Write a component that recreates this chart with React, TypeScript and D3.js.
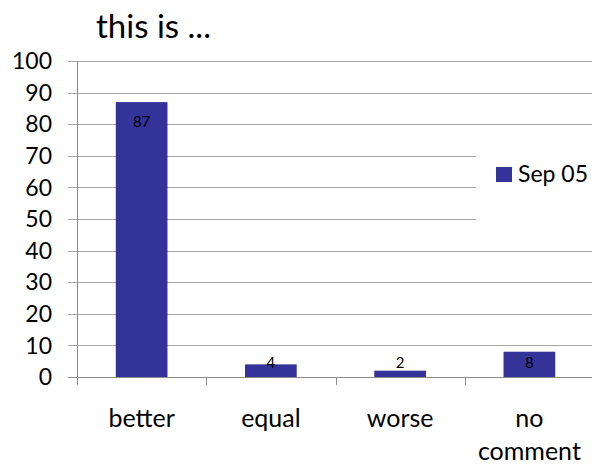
import React from "react";
import * as d3 from "d3";

const categories: string[][] = [["better"], ["equal"], ["worse"], ["no", "comment"]];
const values: number[] = [87, 4, 2, 8];
const yTicks: number[] = [0, 10, 20, 30, 40, 50, 60, 70, 80, 90, 100];
const seriesName = "Sep 05";
const title = "this is ...";

const W = 592;
const H = 465;
const FONT = "Lato, 'Open Sans', sans-serif";
const BAR = "#333399";
const GRID = "#a6a6a6";
const AXIS = "#8c8c8c";

export default function App() {
  const left = 77;
  const right = 594;
  const top = 61;
  const bottom = 377;
  const keys = categories.map((c) => c.join(" "));
  const x = d3.scaleBand<string>().domain(keys).range([left, right]).padding(0);
  const y = d3.scaleLinear().domain([0, 100]).range([bottom, top]);
  const step = x.step();
  const tickLen = 9;

  return (
    <svg
      width={W}
      height={H}
      style={{ position: "absolute", left: 0, top: 0, background: "#fff" }}
      fontFamily={FONT}
    >
      <rect x={0} y={0} width={W} height={H} fill="#fff" />
      <text x={96} y={38} fontSize={33} fill="#000">
        {title}
      </text>
      {/* gridlines */}
      {yTicks.map((t) => (
        <line
          key={"g" + t}
          x1={left - tickLen}
          x2={W}
          y1={Math.round(y(t)) + 0.5}
          y2={Math.round(y(t)) + 0.5}
          stroke={t === 0 ? AXIS : GRID}
          strokeWidth={1}
        />
      ))}
      {/* y tick labels */}
      {yTicks.map((t) => (
        <text
          key={"yl" + t}
          x={52}
          y={y(t)}
          dy="0.36em"
          textAnchor="end"
          fontSize={23}
          fill="#000"
        >
          {t}
        </text>
      ))}
      {/* y axis */}
      <line x1={left + 0.5} x2={left + 0.5} y1={top} y2={bottom + 8} stroke={AXIS} />
      {/* x ticks */}
      {keys.map((k) => (
        <line
          key={"xt" + k}
          x1={Math.round(x(k)!) + 0.5}
          x2={Math.round(x(k)!) + 0.5}
          y1={bottom}
          y2={bottom + 8}
          stroke={AXIS}
        />
      ))}
      {/* bars */}
      {keys.map((k, i) => {
        const bx = x(k)! + step * 0.3;
        const bw = step * 0.4;
        const by = y(values[i]);
        return (
          <rect key={"b" + k} x={bx} y={by} width={bw} height={bottom - by} fill={BAR} />
        );
      })}
      {/* data labels */}
      {keys.map((k, i) => {
        const cx = x(k)! + step / 2;
        const by = y(values[i]);
        const base = Math.min(by + 25, y(0) - 9);
        return (
          <text key={"dl" + k} x={cx} y={base} textAnchor="middle" fontSize={15} fill="#000">
            {values[i]}
          </text>
        );
      })}
      {/* x labels */}
      {categories.map((lines, i) => {
        const cx = x(keys[i])! + step / 2;
        return (
          <text key={"xl" + i} textAnchor="middle" fontSize={25} fill="#000">
            {lines.map((l, j) => (
              <tspan key={j} x={cx} y={427 + j * 33}>
                {l}
              </tspan>
            ))}
          </text>
        );
      })}
      {/* legend */}
      <rect x={476} y={146} width={W - 476} height={80} fill="#fff" />
      <rect x={496} y={167} width={16} height={15} fill={BAR} />
      <text x={518} y={182} fontSize={23} fill="#000">
        {seriesName}
      </text>
    </svg>
  );
}
